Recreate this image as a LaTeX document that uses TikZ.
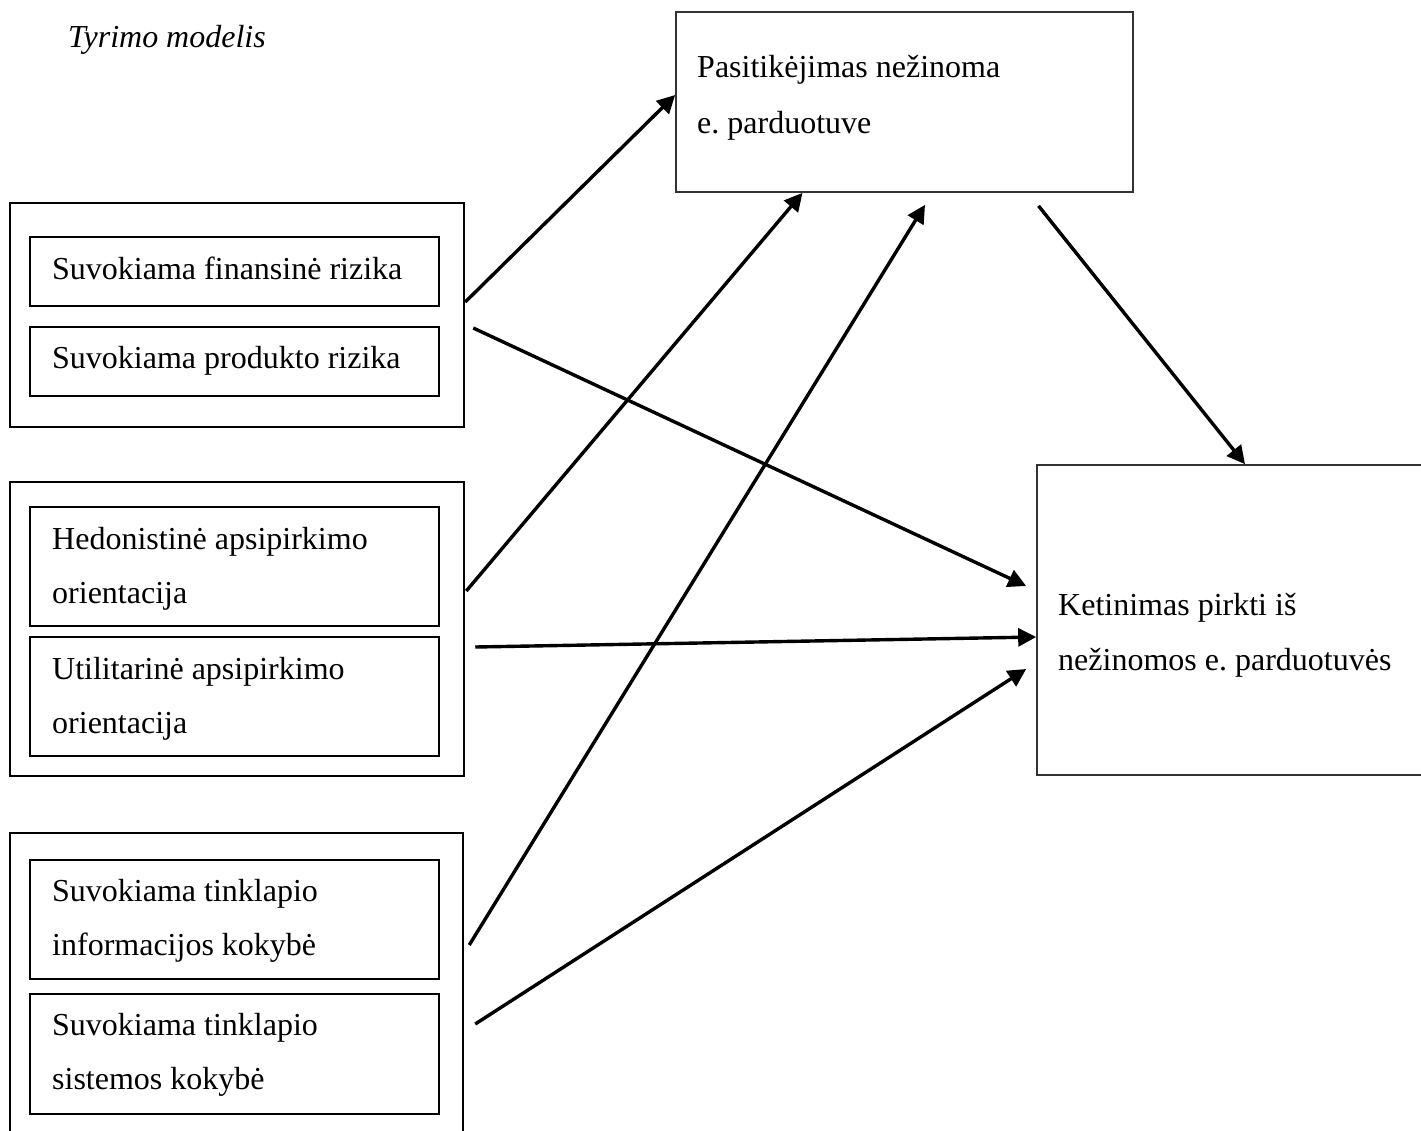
\documentclass[tikz,border=0pt]{standalone}
\usepackage{fontspec}
\setmainfont{Liberation Serif}
\frenchspacing
\usetikzlibrary{arrows.meta}
\begin{document}
\begin{tikzpicture}[x=1pt,y=-1pt,
  box/.style={draw=black, line width=2.5pt, rectangle, inner sep=0pt},
  thinbox/.style={draw=black!80, line width=1.7pt, rectangle, inner sep=0pt},
  txt/.style={anchor=base west, inner sep=0pt, align=left,
    font=\fontsize{32}{54}\selectfont},
  arr/.style={line width=3.4pt, -{Triangle[length=18pt,width=18pt]}}]
\useasboundingbox (0,0) rectangle (1421,1130);
\fill[white] (0,0) rectangle (1421,1130);

\node[txt, font=\fontsize{32}{54}\selectfont\itshape] (title) at (68,47) {Tyrimo modelis};

% group 1
\node[box, minimum width=454pt, minimum height=224pt] (o1) at (237,315) {};
\node[box, minimum width=409pt, minimum height=69pt] (i1a) at (234.5,271.5) {};
\node[box, minimum width=409pt, minimum height=69pt] (i1b) at (234.5,361.5) {};
\node[txt] (t1a) at (52,279) {Suvokiama finansinė rizika};
\node[txt] (t1b) at (52,368) {Suvokiama produkto rizika};

% group 2
\node[box, minimum width=454pt, minimum height=294pt] (o2) at (237,629) {};
\node[box, minimum width=409pt, minimum height=119pt] (i2a) at (234.5,566.5) {};
\node[box, minimum width=409pt, minimum height=119pt] (i2b) at (234.5,696.5) {};
\node[txt] (t2a) at (52,603) {Hedonistinė apsipirkimo\\orientacija};
\node[txt] (t2b) at (52,733) {Utilitarinė apsipirkimo\\orientacija};

% group 3
\node[box, minimum width=453pt, minimum height=312pt] (o3) at (236.5,989) {};
\node[box, minimum width=409pt, minimum height=119pt] (i3a) at (234.5,919.5) {};
\node[box, minimum width=409pt, minimum height=120pt] (i3b) at (234.5,1054) {};
\node[txt] (t3a) at (52,955) {Suvokiama tinklapio\\informacijos kokybė};
\node[txt] (t3b) at (52,1089) {Suvokiama tinklapio\\sistemos kokybė};

% top box
\node[thinbox, minimum width=457pt, minimum height=180pt] (top) at (904.5,102) {};
\node[txt, font=\fontsize{32}{56}\selectfont] (ttop) at (697,133) {Pasitikėjimas nežinoma\\e. parduotuve};

% right box
\node[thinbox, minimum width=393pt, minimum height=310pt] (right) at (1233.5,620) {};
\node[txt, font=\fontsize{32}{55}\selectfont] (tright) at (1058,670) {Ketinimas pirkti iš\\nežinomos e. parduotuvės};

% arrows
\draw[arr] ([xshift=0pt,yshift=13pt]o1.east) -- ([yshift=7pt]top.west);
\draw[arr] ([xshift=8pt,yshift=-13pt]o1.east) -- ([xshift=-10pt,yshift=34pt]right.west);
\draw[arr] ([xshift=1pt,yshift=38pt]o2.east) -- ([xshift=-102pt]top.south);
\draw[arr] ([xshift=10pt,yshift=-18pt]o2.east) -- ([xshift=0pt,yshift=-17pt]right.west);
\draw[arr] ([xshift=5pt,yshift=44pt]o3.east) -- ([xshift=20.5pt,yshift=-12pt]top.south);
\draw[arr] ([xshift=11pt,yshift=-35pt]o3.east) -- ([xshift=-10pt,yshift=-49pt]right.west);
\draw[arr] ([xshift=134pt,yshift=-13pt]top.south) -- ([xshift=11.5pt]right.north);
\end{tikzpicture}
\end{document}
